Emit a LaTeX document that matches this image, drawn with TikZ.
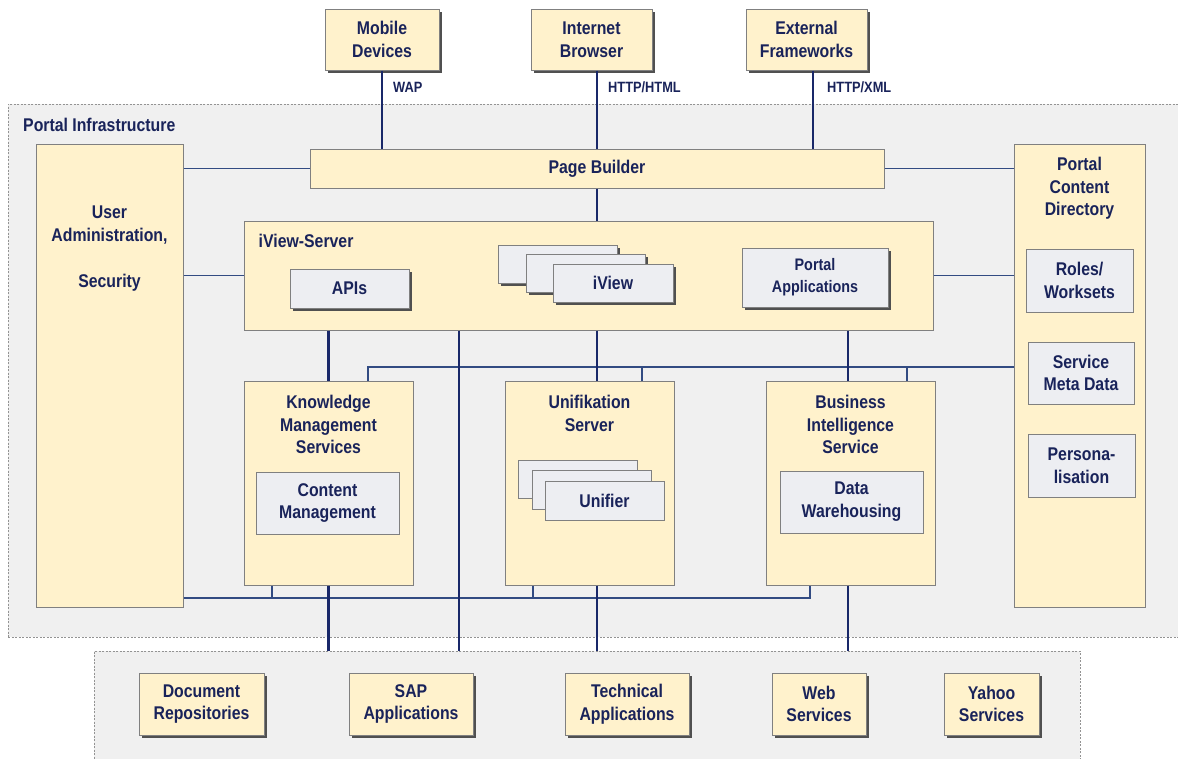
\documentclass[tikz,border=0pt]{standalone}
\usepackage{fontspec}
\setmainfont{Liberation Sans}[FakeStretch=0.86]
\usetikzlibrary{shadows}
\definecolor{boxy}{RGB}{255,242,204}
\definecolor{boxg}{RGB}{237,238,242}
\definecolor{bord}{RGB}{128,128,128}
\definecolor{navy}{RGB}{25,40,105}
\definecolor{thinb}{RGB}{50,75,130}
\definecolor{txt}{RGB}{25,35,90}
\definecolor{bg}{RGB}{240,240,240}
\definecolor{shad}{RGB}{80,80,80}
\begin{document}
\begin{tikzpicture}[x=1pt,y=-1pt,
  every node/.style={font=\bfseries\fontsize{18.4}{22.8}\selectfont, text=txt, align=center, inner sep=0pt},
  ybox/.style={draw=bord, line width=1pt, fill=boxy, rectangle},
  gbox/.style={draw=bord, line width=1pt, fill=boxg, rectangle},
  shd/.style={drop shadow={shadow xshift=3pt, shadow yshift=-3pt, fill=shad, opacity=1}},
  region/.style={draw=gray!85, dash pattern=on 2pt off 1.5pt, line width=0.8pt, fill=bg},
  thk/.style={draw=navy, line width=2.6pt},
  thn/.style={draw=thinb, line width=1.7pt},
  tck/.style={draw=thinb, line width=1.3pt},
  lbl/.style={font=\bfseries\fontsize{14.9}{17}\selectfont, anchor=west},
  toplab/.style={anchor=north, inner sep=0pt, align=center},
]
\useasboundingbox (0,0) rectangle (1178,758);
\fill[white] (0,0) rectangle (1178,758);

% regions
\node[region, minimum width=1190pt, minimum height=533pt] (infra) at (603,370.5) {};
\node[region, minimum width=986pt, minimum height=124pt] (ext) at (587,713) {};
\node[anchor=west] (infralab) at (23,125) {Portal Infrastructure};

% top boxes
\node[ybox,shd,minimum width=114pt,minimum height=61pt] (mobile) at (382,39.5) {Mobile\\Devices};
\node[ybox,shd,minimum width=121pt,minimum height=61pt] (internet) at (591.5,39.5) {Internet\\Browser};
\node[ybox,shd,minimum width=121pt,minimum height=61pt] (external) at (806.5,39.5) {External\\Frameworks};

% main boxes
\node[ybox,minimum width=574pt,minimum height=39pt] (pagebuilder) at (597,168.5) {Page Builder};
\node[ybox,minimum width=147pt,minimum height=463pt,
  label={[toplab,yshift=-62.2pt]north:{User\\Administration,\\[23.5pt]Security}}] (useradmin) at (109.5,375.5) {};
\node[ybox,minimum width=131pt,minimum height=463pt,
  label={[toplab,yshift=-13.2pt]north:{Portal\\Content\\Directory}}] (pcd) at (1079.5,375.5) {};
\node[ybox,minimum width=689pt,minimum height=109pt,
  label={[anchor=north west,xshift=15pt,yshift=-13.2pt]north west:iView-Server}] (iviewserver) at (588.5,275.5) {};
\node[ybox,minimum width=169pt,minimum height=204pt,
  label={[toplab,yshift=-14.2pt]north:{Knowledge\\Management\\Services}}] (km) at (328.5,483) {};
\node[ybox,minimum width=169pt,minimum height=204pt,
  label={[toplab,yshift=-14.2pt]north:{Unifikation\\Server}}] (unif) at (589.5,483) {};
\node[ybox,minimum width=169pt,minimum height=204pt,
  label={[toplab,yshift=-14.2pt]north:{Business\\Intelligence\\Service}}] (bi) at (850.5,483) {};

% inner boxes
\node[gbox,shd,minimum width=119pt,minimum height=39pt] (apis) at (349.5,288.5) {APIs};
\node[gbox,shd,minimum width=119pt,minimum height=38pt] (iviewa) at (557.5,264) {};
\node[gbox,shd,minimum width=119pt,minimum height=38pt] (iviewb) at (585.5,273) {};
\node[gbox,shd,minimum width=120pt,minimum height=38pt] (iviewc) at (613,283) {iView};
\node[gbox,shd,minimum width=146pt,minimum height=59pt,font=\bfseries\fontsize{16.7}{22}\selectfont] (portalapps) at (815,277.5) {Portal\\Applications};
\node[gbox,minimum width=107pt,minimum height=63pt] (roles) at (1079.5,280.5) {Roles/\\Worksets};
\node[gbox,minimum width=106pt,minimum height=62pt] (smd) at (1081,373) {Service\\Meta Data};
\node[gbox,minimum width=107pt,minimum height=63pt] (pers) at (1081.5,465.5) {Persona-\\lisation};
\node[gbox,minimum width=143pt,minimum height=62pt] (cm) at (327.5,503) {Content\\Management};
\node[gbox,minimum width=143pt,minimum height=62pt] (dw) at (851.5,502) {Data\\Warehousing};
\node[gbox,minimum width=119pt,minimum height=38pt] (unifa) at (577.5,479) {};
\node[gbox,minimum width=119pt,minimum height=39pt] (unifb) at (591.5,490) {};
\node[gbox,minimum width=119pt,minimum height=39pt] (unifc) at (604.5,500.5) {Unifier};

% lower boxes
\node[ybox,shd,minimum width=125pt,minimum height=62pt] (docrep) at (201.5,704) {Document\\Repositories};
\node[ybox,shd,minimum width=124pt,minimum height=62pt] (sap) at (411,704) {SAP\\Applications};
\node[ybox,shd,minimum width=124pt,minimum height=62pt] (tech) at (627,704) {Technical\\Applications};
\node[ybox,shd,minimum width=94pt,minimum height=62pt] (web) at (819,704) {Web\\Services};
\node[ybox,shd,minimum width=95pt,minimum height=62pt] (yahoo) at (991.5,704) {Yahoo\\Services};

% protocol labels
\node[lbl] (wap) at (393,87) {WAP};
\node[lbl] (httphtml) at (608,87) {HTTP/HTML};
\node[lbl] (httpxml) at (827,87) {HTTP/XML};

% coordinates
\coordinate (busU) at (368,367);
\coordinate (busL) at (810,598);
\coordinate (tU1) at (642,367);
\coordinate (tU2) at (907,367);
\coordinate (tL1) at (272,598);
\coordinate (tL2) at (533,598);
\coordinate (xs) at (459,0);
\coordinate (xu) at (597,0);
\coordinate (xb) at (848,0);

% thin connectors
\draw[thn] (useradmin.east |- pagebuilder.west) -- (pagebuilder.west);
\draw[thn] (pagebuilder.east) -- (pagebuilder.east -| pcd.west);
\draw[thn] (useradmin.east |- iviewserver.west) -- (iviewserver.west);
\draw[thn] (iviewserver.east) -- (iviewserver.east -| pcd.west);
\draw[thn] (km.north -| busU) -- (busU) -- (busU -| pcd.west);
\draw[tck] (tU1) -- (tU1 |- unif.north);
\draw[tck] (tU2) -- (tU2 |- bi.north);
\draw[thn] (useradmin.east |- busL) -- (busL) -- (busL |- bi.south);
\draw[tck] (tL1) -- (tL1 |- km.south);
\draw[tck] (tL2) -- (tL2 |- unif.south);

% thick connectors
\draw[thk] (mobile.south) -- (mobile.south |- pagebuilder.north);
\draw[thk] (internet.south -| pagebuilder.north) -- (pagebuilder.north);
\draw[thk] ([xshift=6.5pt]external.south) -- ([xshift=6.5pt]external.south |- pagebuilder.north);
\draw[thk] (pagebuilder.south) -- (pagebuilder.south |- iviewserver.north);
\draw[thk] (iviewserver.south -| km.north) -- (km.north);
\draw[thk] (iviewserver.south -| xu) -- (unif.north -| xu);
\draw[thk] (iviewserver.south -| xb) -- (bi.north -| xb);
\draw[thk] (iviewserver.south -| xs) -- (ext.north -| xs);
\draw[thk] (km.south) -- (km.south |- ext.north);
\draw[thk] (unif.south -| xu) -- (ext.north -| xu);
\draw[thk] (bi.south -| xb) -- (ext.north -| xb);
\end{tikzpicture}
\end{document}
